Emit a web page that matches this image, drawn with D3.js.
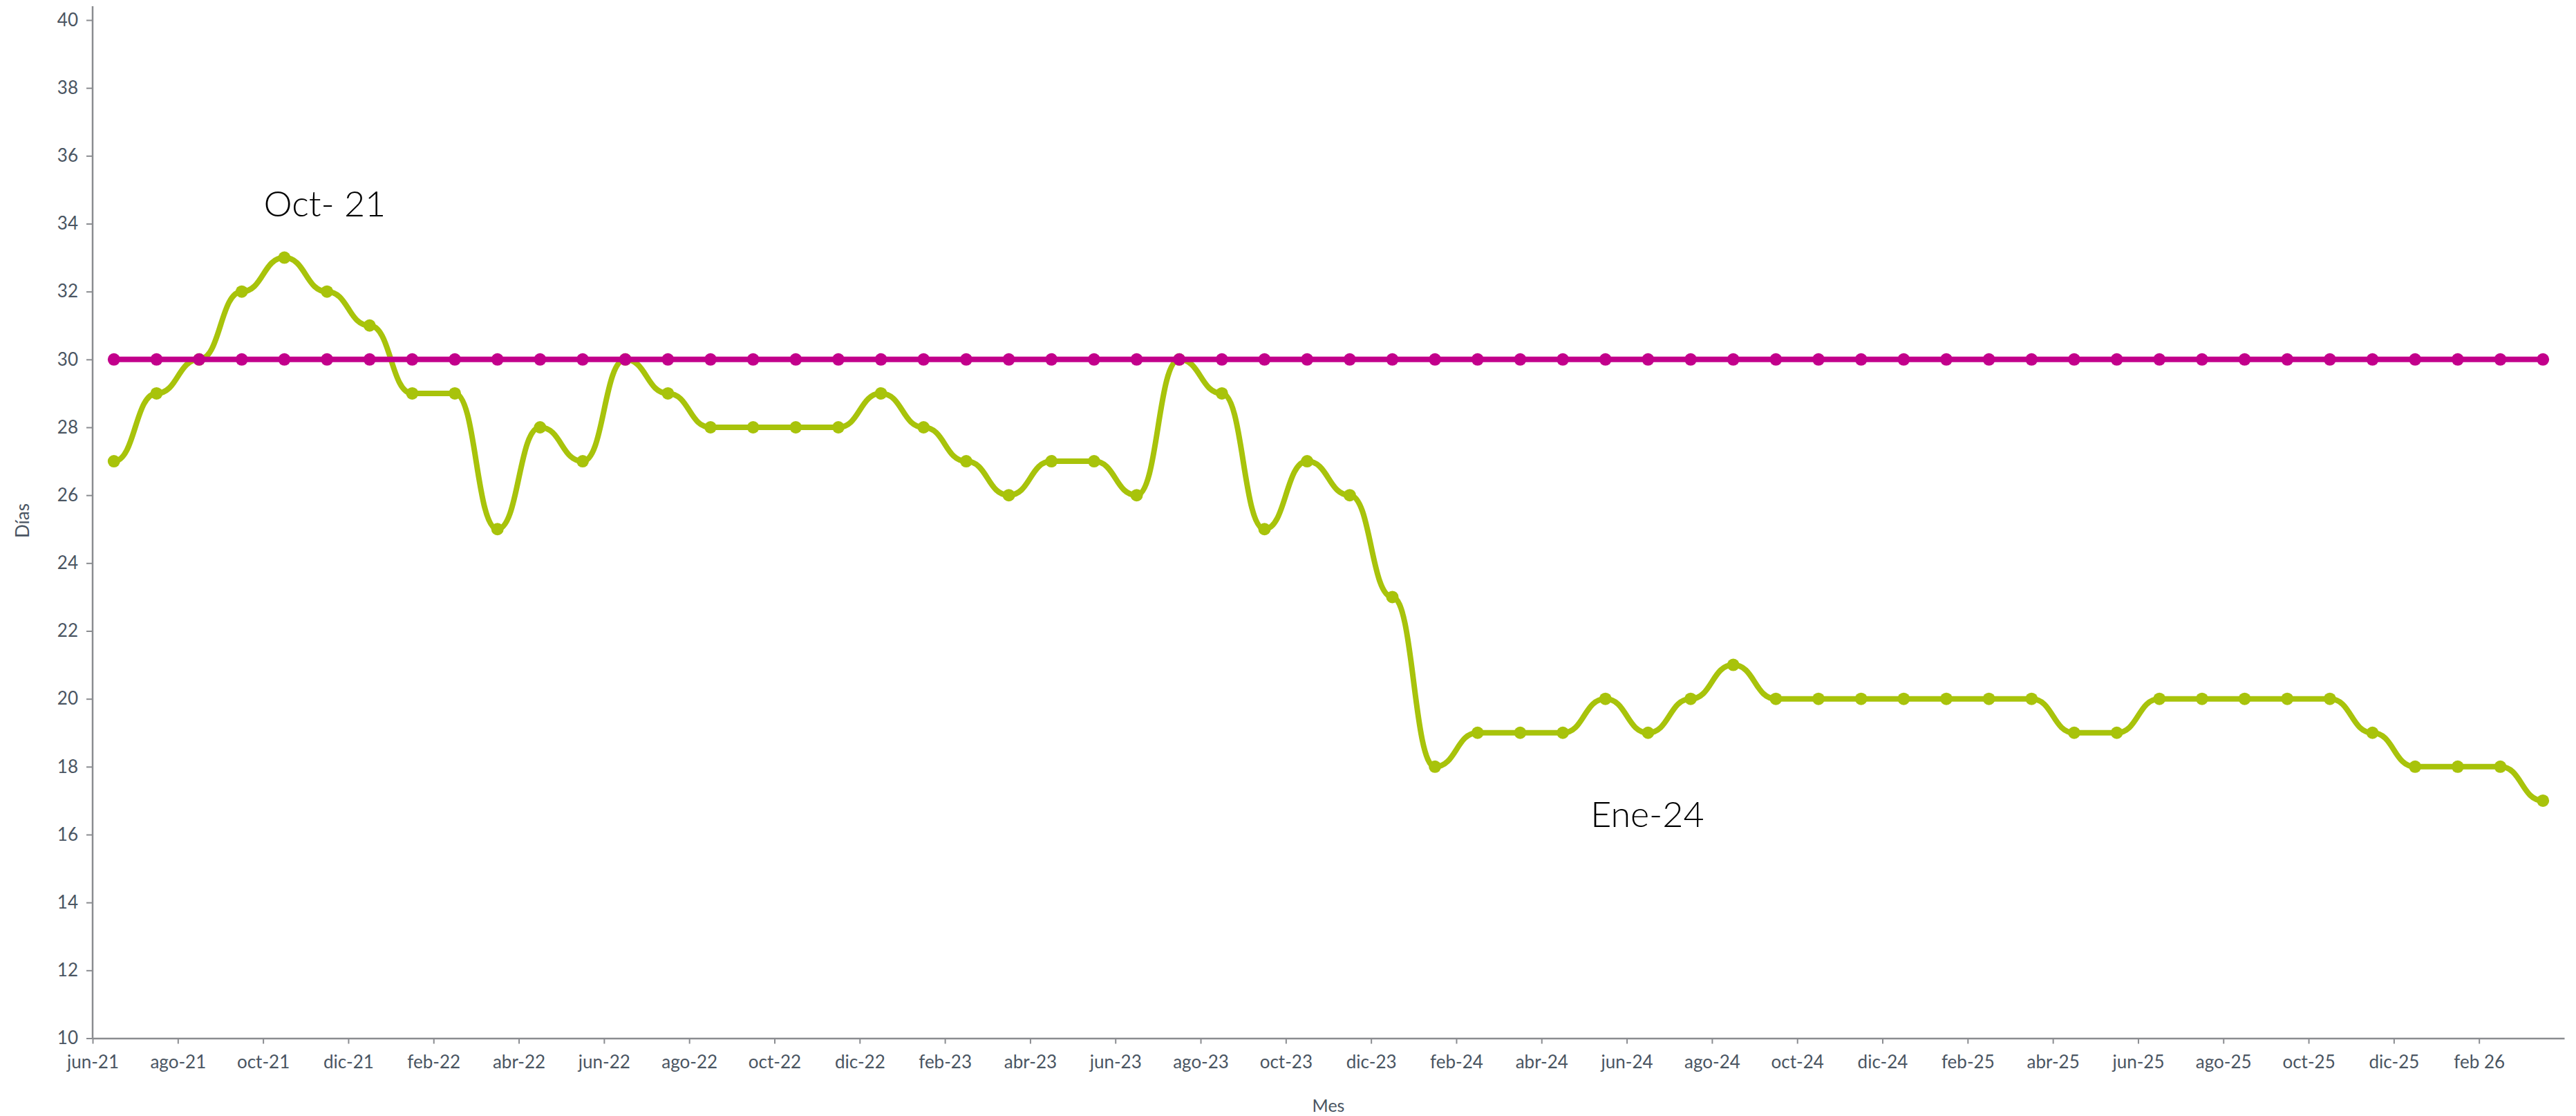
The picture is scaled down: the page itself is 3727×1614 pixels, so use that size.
<!DOCTYPE html>
<html>
<head>
<meta charset="utf-8">
<script src="https://cdn.jsdelivr.net/npm/d3@7"></script>
<style>
  body { margin: 0; background: #fff; }
  svg { display: block; }
</style>
</head>
<body>
<div id="canvas"></div>
<script>
"use strict";

/* Data */
let months = [
  "jun-21", "jul-21", "ago-21", "sep-21", "oct-21", "nov-21", "dic-21",
  "ene-22", "feb-22", "mar-22", "abr-22", "may-22", "jun-22", "jul-22", "ago-22", "sep-22", "oct-22", "nov-22", "dic-22",
  "ene-23", "feb-23", "mar-23", "abr-23", "may-23", "jun-23", "jul-23", "ago-23", "sep-23", "oct-23", "nov-23", "dic-23",
  "ene-24", "feb-24", "mar-24", "abr-24", "may-24", "jun-24", "jul-24", "ago-24", "sep-24", "oct-24", "nov-24", "dic-24",
  "ene-25", "feb-25", "mar-25", "abr-25", "may-25", "jun-25", "jul-25", "ago-25", "sep-25", "oct-25", "nov-25", "dic-25",
  "ene-26", "feb-26", "mar-26"
];

let diasReales = [
  27, 29, 30, 32, 33, 32, 31,
  29, 29, 25, 28, 27, 30, 29, 28, 28, 28, 28, 29,
  28, 27, 26, 27, 27, 26, 30, 29, 25, 27, 26, 23,
  18, 19, 19, 19, 20, 19, 20, 21, 20, 20, 20, 20,
  20, 20, 20, 19, 19, 20, 20, 20, 20, 20, 19, 18,
  18, 18, 17
];

let diasMeta = [
  30, 30, 30, 30, 30, 30, 30,
  30, 30, 30, 30, 30, 30, 30, 30, 30, 30, 30, 30,
  30, 30, 30, 30, 30, 30, 30, 30, 30, 30, 30, 30,
  30, 30, 30, 30, 30, 30, 30, 30, 30, 30, 30, 30,
  30, 30, 30, 30, 30, 30, 30, 30, 30, 30, 30, 30,
  30, 30, 30
];

let tickLabels = [
  "jun-21", "ago-21", "oct-21", "dic-21", "feb-22", "abr-22", "jun-22", "ago-22",
  "oct-22", "dic-22", "feb-23", "abr-23", "jun-23", "ago-23", "oct-23", "dic-23",
  "feb-24", "abr-24", "jun-24", "ago-24", "oct-24", "dic-24", "feb-25", "abr-25",
  "jun-25", "ago-25", "oct-25", "dic-25", "feb 26"
];

let yTicks = [10, 12, 14, 16, 18, 20, 22, 24, 26, 28, 30, 32, 34, 36, 38, 40];

let annotations = [
  { text: "Oct- 21", month: "oct-21" },
  { text: "Ene-24", month: "ene-24" }
];

/* SVG setup */
let svgWidth = 3727;
let svgHeight = 1614;
let plotLeft = 134;
let plotRight = 3710;
let plotTop = 29;
let plotBottom = 1501.5;

let green = "#a8c30b";
let pink = "#c2008b";
let axisGray = "#8a8c90";
let labelColor = "#4a5562";

let svg = d3.select("#canvas")
  .append("svg")
  .attr("width", svgWidth)
  .attr("height", svgHeight);

svg.append("rect")
  .attr("width", svgWidth)
  .attr("height", svgHeight)
  .attr("fill", "#fff");

/* Scales */
let xBand = d3.scaleBand().domain(months).range([plotLeft, plotRight]).padding(0);
let xTick = d3.scaleLinear().domain([0, months.length]).range([plotLeft, plotRight]);
let yScale = d3.scaleLinear().domain([10, 40]).range([plotBottom, plotTop]);

function cx(m) {
  return xBand(m) + xBand.bandwidth() / 2;
}

/* X axis */
let xAxis = d3.axisBottom(xTick)
  .tickValues(d3.range(0, months.length - 1, 2))
  .tickFormat(function (d, i) { return tickLabels[i]; })
  .tickSize(8)
  .tickSizeOuter(0)
  .tickPadding(17);

let gx = svg.append("g")
  .attr("transform", "translate(0," + plotBottom + ")")
  .call(xAxis);

gx.select(".domain").attr("stroke", axisGray).attr("stroke-width", 2.5);
gx.selectAll(".tick line").attr("stroke", axisGray).attr("stroke-width", 2);
gx.selectAll(".tick text")
  .attr("fill", labelColor)
  .style("font-family", "Lato, sans-serif")
  .style("font-size", "26px");

/* Y axis */
let yAxis = d3.axisLeft(yScale)
  .tickValues(yTicks)
  .tickSize(9)
  .tickSizeOuter(0)
  .tickPadding(12);

let gy = svg.append("g")
  .attr("transform", "translate(" + plotLeft + ",0)")
  .call(yAxis);

gy.select(".domain").remove();
gy.selectAll(".tick line").attr("stroke", axisGray).attr("stroke-width", 2);
gy.selectAll(".tick text")
  .attr("fill", labelColor)
  .style("font-family", "Lato, sans-serif")
  .style("font-size", "26px");

// y axis line runs a bit above the top tick
svg.append("line")
  .attr("x1", plotLeft)
  .attr("x2", plotLeft)
  .attr("y1", 9)
  .attr("y2", plotBottom)
  .attr("stroke", axisGray)
  .attr("stroke-width", 2.5);

/* Axis titles */
svg.append("text")
  .attr("x", (plotLeft + plotRight) / 2)
  .attr("y", 1608)
  .attr("text-anchor", "middle")
  .attr("fill", labelColor)
  .style("font-family", "Lato, sans-serif")
  .style("font-size", "25px")
  .text("Mes");

svg.append("text")
  .attr("transform", "rotate(-90)")
  .attr("x", -753)
  .attr("y", 42)
  .attr("text-anchor", "middle")
  .attr("fill", labelColor)
  .style("font-family", "Lato, sans-serif")
  .style("font-size", "26px")
  .text("Días");

/* Lines */
let metaLine = d3.line()
  .x(function (d, i) { return cx(months[i]); })
  .y(function (d) { return yScale(d); });

let realLine = d3.line()
  .x(function (d, i) { return cx(months[i]); })
  .y(function (d) { return yScale(d); })
  .curve(d3.curveBumpX);

svg.append("path")
  .datum(diasReales)
  .attr("d", realLine)
  .attr("fill", "none")
  .attr("stroke", green)
  .attr("stroke-width", 8)
  .attr("stroke-linejoin", "round");

svg.append("g")
  .selectAll("circle")
  .data(diasReales)
  .join("circle")
  .attr("cx", function (d, i) { return cx(months[i]); })
  .attr("cy", function (d) { return yScale(d); })
  .attr("r", 9)
  .attr("fill", green);

svg.append("path")
  .datum(diasMeta)
  .attr("d", metaLine)
  .attr("fill", "none")
  .attr("stroke", pink)
  .attr("stroke-width", 8);

svg.append("g")
  .selectAll("circle")
  .data(diasMeta)
  .join("circle")
  .attr("cx", function (d, i) { return cx(months[i]); })
  .attr("cy", function (d) { return yScale(d); })
  .attr("r", 9)
  .attr("fill", pink);

/* Annotations */
svg.append("text")
  .attr("x", cx(annotations[0].month) - 30)
  .attr("y", 313)
  .attr("fill", "#000")
  .style("font-family", "Lato, sans-serif")
  .style("font-weight", 300)
  .style("font-size", "52px")
  .text(annotations[0].text);

svg.append("text")
  .attr("x", cx(annotations[1].month) + 225)
  .attr("y", 1196)
  .attr("fill", "#000")
  .style("font-family", "Lato, sans-serif")
  .style("font-weight", 300)
  .style("font-size", "52px")
  .text(annotations[1].text);
</script>
</body>
</html>
